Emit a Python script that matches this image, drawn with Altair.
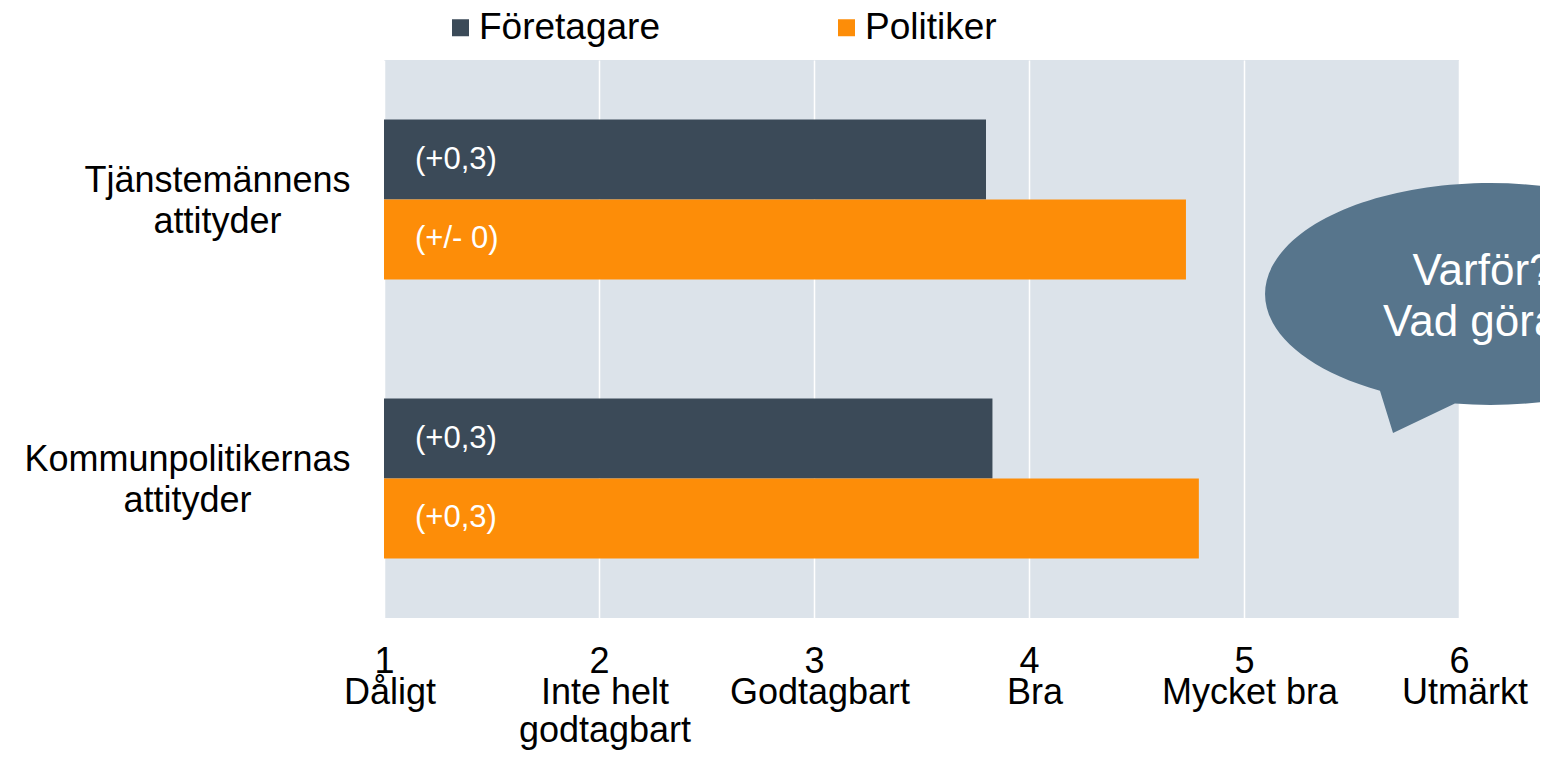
import altair as alt
import pandas as pd

categories = ["Tjänstemännens attityder", "Kommunpolitikernas attityder"]
series = ["Företagare", "Politiker"]
foretagare_values = [3.80, 3.83]
politiker_values = [4.73, 4.79]
foretagare_changes = ["(+0,3)", "(+0,3)"]
politiker_changes = ["(+/- 0)", "(+0,3)"]
scale_ticks = [1, 2, 3, 4, 5, 6]
scale_names = ["Dåligt", "Inte helt\ngodtagbart", "Godtagbart", "Bra", "Mycket bra", "Utmärkt"]
bubble_lines = ["Varför?", "Vad göra?"]
colors = ["#3B4A58", "#FD8D08"]

rows = []
for i, c in enumerate(categories):
    rows.append({"category": c, "series": series[0], "value": foretagare_values[i], "change": foretagare_changes[i]})
    rows.append({"category": c, "series": series[1], "value": politiker_values[i], "change": politiker_changes[i]})
bars_df = pd.DataFrame(rows)
names_df = pd.DataFrame({"value": scale_ticks, "name": scale_names})
bubble_df = pd.DataFrame({"text": ["\n".join(bubble_lines)]})

FONT = "Liberation Sans"
NBSP = "\u00a0"

x_scale = alt.Scale(domain=[1, 6], nice=False, zero=False)
x_enc = alt.X(
    "value:Q",
    scale=x_scale,
    axis=alt.Axis(
        values=scale_ticks, format="d", title=None, ticks=False, domain=False,
        grid=True, gridColor="white", gridWidth=1.5,
        labelFontSize=36, labelPadding=26, labelBaseline="top",
        labelFlush=False, labelOverlap=False, labelBound=False, labelColor="black",
    ),
)
y_enc = alt.Y(
    "category:N",
    sort=categories,
    scale=alt.Scale(paddingInner=0, paddingOuter=0),
    axis=alt.Axis(
        title=None, ticks=False, domain=False, grid=False,
        labelExpr=f"[split(datum.label, ' ')[0] + '{NBSP}', split(datum.label, ' ')[1]]",
        labelFontSize=36, labelLineHeight=41, labelAlign="center",
        labelPadding={"condition": {"test": f"datum.value == '{categories[0]}'", "value": 167}, "value": 197},
        labelOffset=-19,
        labelBaseline="middle", labelLimit=500, labelColor="black",
    ),
)
yoff_enc = alt.YOffset("series:N", sort=series, scale=alt.Scale(paddingInner=0, paddingOuter=0.744))

bars = alt.Chart(bars_df).mark_bar(opacity=1).encode(
    x=x_enc,
    x2=alt.datum(1),
    y=y_enc,
    yOffset=yoff_enc,
    color=alt.Color(
        "series:N",
        sort=series,
        scale=alt.Scale(domain=series, range=colors),
        legend=alt.Legend(
            orient="none", legendX=58, legendY=-51, direction="horizontal", title=None,
            symbolType="square", symbolSize=289, symbolStrokeWidth=0, symbolOpacity=1,
            labelFontSize=37, labelOffset=0, columnPadding=168, labelLimit=500,
            padding=0, labelColor="black",
        ),
    ),
)

bar_labels = alt.Chart(bars_df).mark_text(
    align="left", baseline="middle", dx=31, fontSize=31, color="white"
).encode(
    x=alt.datum(1),
    y=alt.Y("category:N", sort=categories),
    yOffset=alt.YOffset("series:N", sort=series),
    text="change:N",
)

names = alt.Chart(names_df).mark_text(
    align="center", baseline="alphabetic", dx=6, fontSize=36, lineHeight=38,
    lineBreak="\n", color="black",
).encode(
    x=alt.X("value:Q"),
    y=alt.value(644),
    text="name:N",
)

bubble_path = "M -0.489 0.430 A 1 0.493 0 1 1 -0.156 0.487 L -0.431 0.618 Z"
bubble = alt.Chart(bubble_df).mark_point(
    shape=bubble_path, size=202500, filled=True, fill="#57758C", opacity=1, strokeWidth=0
).encode(x=alt.value(1106), y=alt.value(234))

bubble_text = alt.Chart(bubble_df).mark_text(
    align="center", baseline="alphabetic", fontSize=44, lineHeight=51,
    lineBreak="\n", color="white",
).encode(x=alt.value(1099), y=alt.value(225), text="text:N")

chart = alt.layer(bars, bar_labels, names, bubble, bubble_text).properties(
    width=1075,
    height=558,
    padding={"left": 376, "top": 52, "right": 81, "bottom": 132},
    autosize=alt.AutoSizeParams(type="none"),
).configure(font=FONT).configure_view(fill="#DCE3EA", strokeWidth=0)

chart.save("out.html", embed_options={"renderer": "svg", "actions": False})
